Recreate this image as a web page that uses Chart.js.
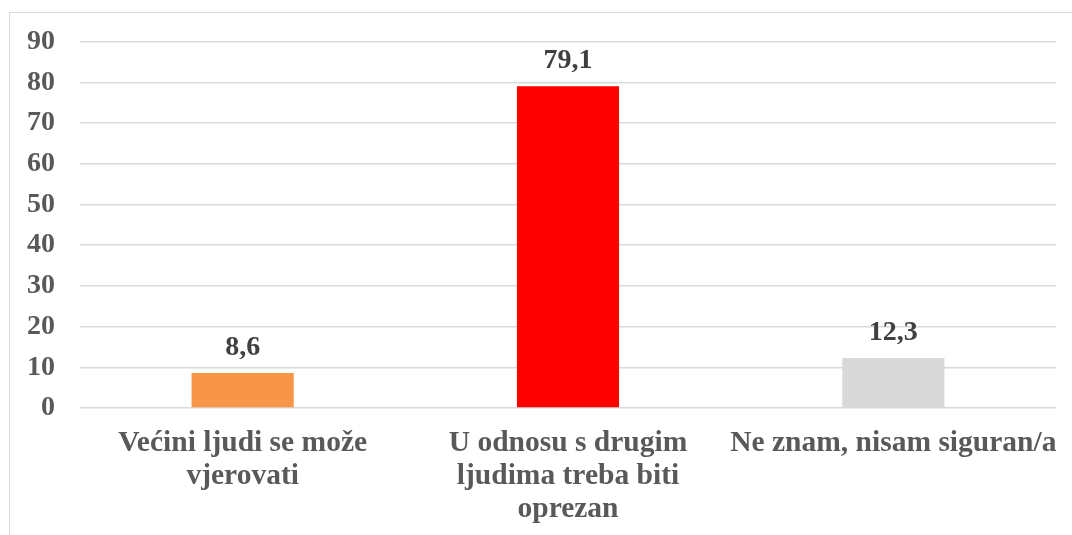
<!DOCTYPE html>
<html lang="hr">
<head>
<meta charset="UTF-8">
<title>Povjerenje u ljude</title>
<script src="https://cdn.jsdelivr.net/npm/chart.js"></script>
<style>
  html, body { margin: 0; padding: 0; background: #fff; }
  #wrap { position: relative; width: 1072px; height: 535px; }
</style>
</head>
<body>
<div id="wrap"><canvas id="trustChart" width="1072" height="535"></canvas></div>
<script>
// data
const categories = [
    ['Većini ljudi se može', 'vjerovati'],
    ['U odnosu s drugim', 'ljudima treba biti', 'oprezan'],
    ['Ne znam, nisam siguran/a']
];
const values = [8.6, 79.1, 12.3];
const barColors = ['#F79646', '#FF0000', '#D9D9D9'];
const yTicks = [0, 10, 20, 30, 40, 50, 60, 70, 80, 90];

const serif = '"Liberation Serif", "Times New Roman", serif';

// light frame round the chart (top and left edges are visible)
const framePlugin = {
    id: 'frame',
    beforeDraw(chart) {
        const ctx = chart.ctx;
        ctx.save();
        ctx.strokeStyle = '#D9D9D9';
        ctx.lineWidth = 1;
        ctx.beginPath();
        ctx.moveTo(9.5, chart.height);
        ctx.lineTo(9.5, 12.5);
        ctx.lineTo(chart.width, 12.5);
        ctx.stroke();
        ctx.restore();
    }
};

// value labels above bars, with comma decimals
const valueLabels = {
    id: 'valueLabels',
    afterDatasetsDraw(chart) {
        const ctx = chart.ctx;
        const meta = chart.getDatasetMeta(0);
        ctx.save();
        ctx.font = 'bold 28px ' + serif;
        ctx.fillStyle = '#404040';
        ctx.textAlign = 'center';
        ctx.textBaseline = 'middle';
        meta.data.forEach((bar, i) => {
            const txt = values[i].toFixed(1).replace('.', ',');
            ctx.fillText(txt, bar.x, bar.y - 25);
        });
        ctx.restore();
    }
};

new Chart(document.getElementById('trustChart'), {
    type: 'bar',
    data: {
        labels: categories,
        datasets: [{
            data: values,
            backgroundColor: barColors,
            borderWidth: 0,
            barPercentage: 0.314,
            categoryPercentage: 1
        }]
    },
    options: {
        responsive: false,
        animation: false,
        layout: { padding: { top: 41, right: 16, left: 0, bottom: 0 } },
        plugins: {
            legend: { display: false },
            tooltip: { enabled: false }
        },
        scales: {
            x: {
                grid: { display: false, drawTicks: false },
                border: { display: false },
                ticks: {
                    color: '#595959',
                    font: { family: serif, size: 29.5, weight: 'bold', lineHeight: 1.12 },
                    padding: 19,
                    maxRotation: 0,
                    autoSkip: false
                },
                afterFit(scale) {
                    scale.height = 127;
                    // labels may overhang; keep the plot area full width
                    scale.paddingLeft = 0;
                    scale.paddingRight = 0;
                }
            },
            y: {
                min: 0,
                max: 90,
                afterBuildTicks(scale) { scale.ticks = yTicks.map(v => ({ value: v })); },
                grid: { color: '#D9D9D9', lineWidth: 1.5, drawTicks: false },
                border: { display: false },
                ticks: {
                    color: '#595959',
                    font: { family: serif, size: 28, weight: 'bold' },
                    padding: 25
                },
                afterFit(scale) { scale.width = 80; }
            }
        }
    },
    plugins: [framePlugin, valueLabels]
});
</script>
</body>
</html>
